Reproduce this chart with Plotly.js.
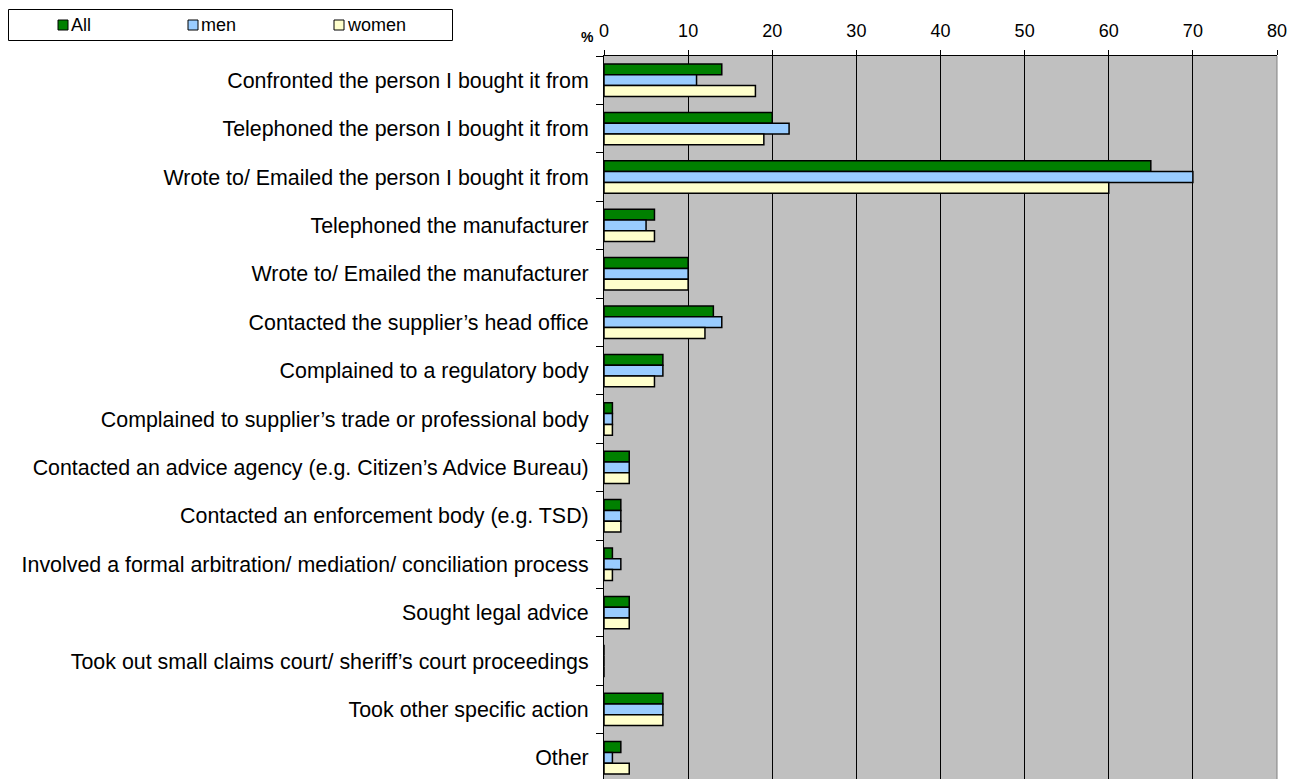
<!DOCTYPE html>
<html>
<head>
<meta charset="utf-8">
<script src="https://cdn.plot.ly/plotly-3.0.1.min.js"></script>
<style>html,body{margin:0;padding:0;overflow:hidden;background:#fff;}#chart{width:1296px;height:782px;}</style>
</head>
<body>
<div id="chart"></div>
<script>
const categories = [
  "Confronted the person I bought it from",
  "Telephoned the person I bought it from",
  "Wrote to/ Emailed the person I bought it from",
  "Telephoned the manufacturer",
  "Wrote to/ Emailed the manufacturer",
  "Contacted the supplier\u2019s head office",
  "Complained to a regulatory body",
  "Complained to supplier\u2019s trade or professional body",
  "Contacted an advice agency (e.g. Citizen\u2019s Advice Bureau)",
  "Contacted an enforcement body (e.g. TSD)",
  "Involved a formal arbitration/ mediation/ conciliation process",
  "Sought legal advice",
  "Took out small claims court/ sheriff\u2019s court proceedings",
  "Took other specific action",
  "Other"
];
const allValues   = [14, 20, 65, 6, 10, 13, 7, 1, 3, 2, 1, 3, 0, 7, 2];
const menValues   = [11, 22, 70, 5, 10, 14, 7, 1, 3, 2, 2, 3, 0, 7, 1];
const womenValues = [18, 19, 60, 6, 10, 12, 6, 1, 3, 2, 1, 3, 0, 7, 3];
const seriesNames = ["All", "men", "women"];
const xTicks = [0, 10, 20, 30, 40, 50, 60, 70, 80];

const colors = ["#008000", "#99CCFF", "#FFFFCC"];
const W = 1296, H = 782;
const mL = 604, mR = 19, mT = 56, mB = 0;
const pw = W - mL - mR, ph = H - mT - mB;
const px = v => (v - mL) / pw;
const py = v => 1 - (v - mT) / ph;

const font = "Arial, 'Liberation Sans', sans-serif";
const data = [allValues, menValues, womenValues].map((vals, i) => ({
  type: "bar",
  orientation: "h",
  name: seriesNames[i],
  y: categories,
  x: vals,
  marker: {color: colors[i], line: {color: "#000", width: 1.5}},
  hoverinfo: "x+y+name"
}));

const shapes = [{
  type: "rect", xref: "paper", yref: "paper",
  x0: px(8.5), x1: px(452.5), y0: py(9.5), y1: py(40.5),
  line: {color: "#000", width: 1}, fillcolor: "#fff"
}];
const annotations = [{
  xref: "paper", yref: "paper", x: px(596), y: py(37), xanchor: "right", yanchor: "middle",
  text: "<b>%</b>", showarrow: false, font: {family: font, size: 14, color: "#000"}
}];
const legendX = [58, 188, 334];
seriesNames.forEach((n, i) => {
  shapes.push({
    type: "rect", xref: "paper", yref: "paper",
    x0: px(legendX[i]), x1: px(legendX[i] + 10), y0: py(20), y1: py(30),
    line: {color: "#000", width: 1}, fillcolor: colors[i]
  });
  annotations.push({
    xref: "paper", yref: "paper", x: px(legendX[i] + 11), y: py(25), xanchor: "left", yanchor: "middle",
    text: n, showarrow: false, font: {family: font, size: 18, color: "#000"}
  });
});

const layout = {
  width: W, height: H,
  margin: {l: mL, r: mR, t: mT, b: mB, pad: 0},
  paper_bgcolor: "#fff", plot_bgcolor: "#C0C0C0",
  barmode: "group", bargap: 0.33, bargroupgap: 0,
  showlegend: false,
  font: {family: font, size: 21.4, color: "#000"},
  xaxis: {
    side: "top", range: [0, 80], tickvals: xTicks, ticktext: xTicks.map(String),
    showgrid: true, gridcolor: "#000", gridwidth: 1,
    showline: true, linecolor: "#000", linewidth: 1, mirror: false,
    ticks: "outside", ticklen: 5, tickcolor: "#000",
    tickfont: {family: font, size: 18, color: "#000"}, ticklabelstandoff: 6,
    zeroline: false, fixedrange: true
  },
  yaxis: {
    type: "category", autorange: "reversed",
    showline: true, linecolor: "#000", linewidth: 1,
    ticks: "outside", ticklen: 7, tickcolor: "#000", tickson: "boundaries",
    tickfont: {family: font, size: 21.4, color: "#000"},
    showgrid: false, zeroline: false, fixedrange: true, ticklabelstandoff: 10
  },
  shapes: shapes.concat([{
    type: "line", xref: "paper", yref: "paper", x0: 1, x1: 1, y0: 0, y1: 1,
    line: {color: "#808080", width: 1}
  }]),
  annotations: annotations
};

Plotly.newPlot("chart", data, layout, {displayModeBar: false, staticPlot: true});
</script>
</body>
</html>
